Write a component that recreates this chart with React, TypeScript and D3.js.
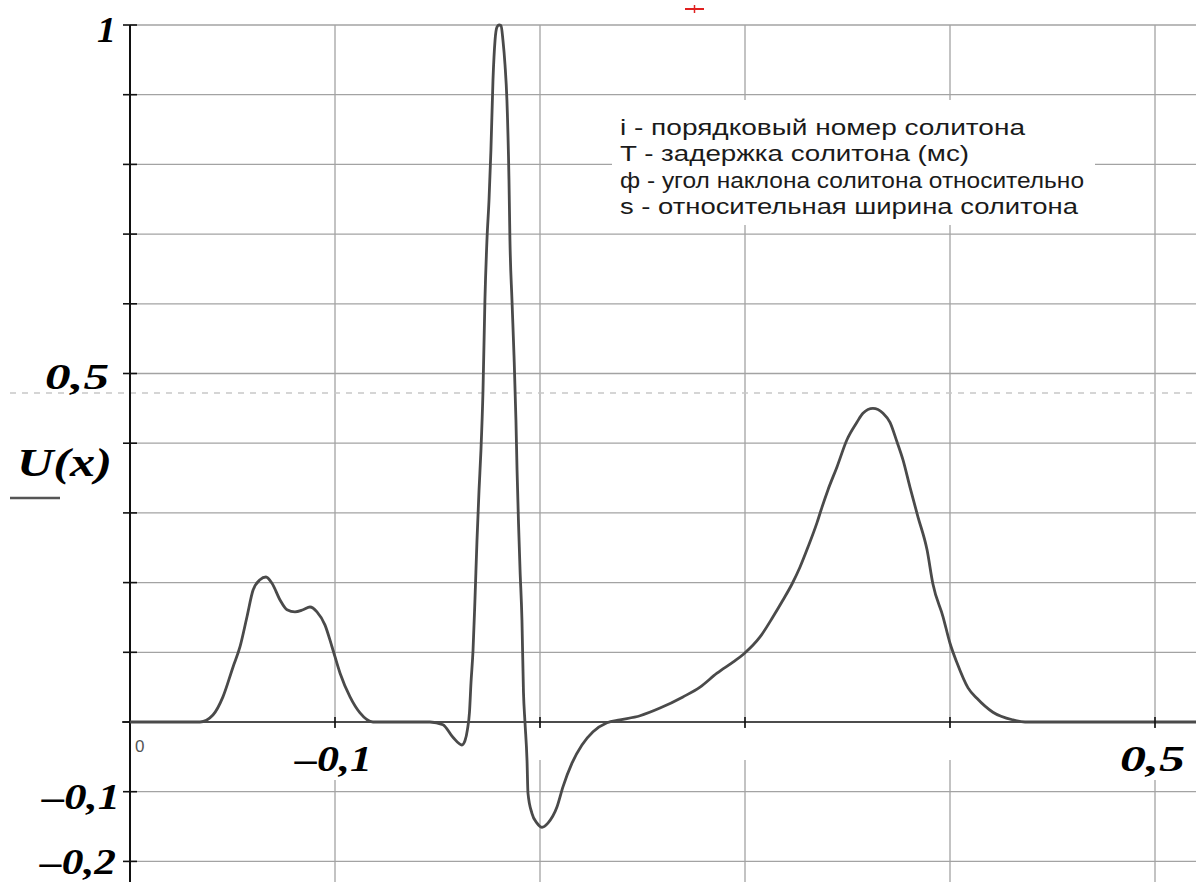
import React from "react";
import * as d3 from "d3";

// ---- data ----
const uX = [
  -0.25, -0.1988, -0.1893, -0.182, -0.1746, -0.1695, -0.1644, -0.16, -0.1549, -0.1505,
  -0.1461, -0.1402, -0.1351, -0.1293, -0.1234, -0.1183, -0.1132, -0.1073, -0.1022, -0.0963,
  -0.089, -0.0817, -0.0722, -0.0305, -0.021, -0.0137, -0.0071, -0.0049, -0.0031, -0.0016,
  -0.0005, 0.001, 0.0024, 0.0039, 0.0054, 0.0068, 0.0083, 0.0097, 0.0112, 0.0127,
  0.0141, 0.0156, 0.0171, 0.0185, 0.02, 0.0215, 0.0229, 0.0244, 0.0258, 0.0273,
  0.028, 0.0295, 0.031, 0.0324, 0.0332, 0.0343, 0.0354, 0.0368, 0.0379, 0.039,
  0.0405, 0.0412, 0.0441, 0.0478, 0.0515, 0.0558, 0.0624, 0.0668, 0.0734, 0.0807,
  0.0888, 0.099, 0.1085, 0.1232, 0.1378, 0.1546, 0.1671, 0.1795, 0.1912, 0.1993,
  0.211, 0.2205, 0.2278, 0.2344, 0.2402, 0.2461, 0.2527, 0.2563, 0.2607, 0.2673,
  0.2746, 0.2819, 0.2863, 0.2936, 0.301, 0.3061, 0.3112, 0.3156, 0.3207, 0.3266,
  0.3332, 0.3375, 0.3449, 0.35, 0.3551, 0.3632, 0.3697, 0.3814, 0.3961, 0.4049,
  0.53,
];
const uY = [
  0, 0, 0.01, 0.036, 0.079, 0.108, 0.151, 0.189, 0.204, 0.208,
  0.199, 0.175, 0.161, 0.158, 0.161, 0.165, 0.158, 0.139, 0.108, 0.07,
  0.036, 0.013, 0, 0, -0.004, -0.022, -0.033, -0.027, -0.011, 0.014,
  0.056, 0.103, 0.175, 0.261, 0.333, 0.39, 0.476, 0.605, 0.692, 0.749,
  0.821, 0.921, 0.978, 0.997, 1.0, 0.999, 0.978, 0.943, 0.892, 0.778,
  0.692, 0.605, 0.525, 0.433, 0.362, 0.284, 0.218, 0.146, 0.043, 0,
  -0.055, -0.102, -0.131, -0.145, -0.151, -0.145, -0.122, -0.093, -0.059, -0.033,
  -0.014, -0.001, 0.003, 0.009, 0.02, 0.036, 0.05, 0.07, 0.086, 0.098,
  0.122, 0.151, 0.175, 0.198, 0.222, 0.251, 0.286, 0.308, 0.333, 0.366,
  0.405, 0.43, 0.443, 0.45, 0.443, 0.43, 0.402, 0.376, 0.337, 0.294,
  0.247, 0.198, 0.151, 0.113, 0.085, 0.049, 0.034, 0.014, 0.003, 0,
  0,
];

const yGridValues = [-0.2, -0.1, 0.1, 0.2, 0.3, 0.4, 0.5, 0.6, 0.7, 0.8, 0.9, 1.0];
const yTickValues = [-0.2, -0.1, 0, 0.1, 0.2, 0.3, 0.4, 0.5, 0.6, 0.7, 0.8, 0.9, 1.0];
const xGridValues = [-0.1, 0.05, 0.2, 0.35, 0.5];
const yLabelValues = [1, 0.5, -0.1, -0.2];
const yLabelTexts = ["1", "0,5", "–0,1", "–0,2"];
const xLabelValues = [-0.1, 0.5];
const xLabelTexts = ["–0,1", "0,5"];
const originLabel = "0";
const refLevel = 0.472;
const seriesName = "U(x)";
const legendLines = [
  "i - порядковый номер солитона",
  "T - задержка солитона (мс)",
  "ф - угол наклона солитона относительно",
  "s - относительная ширина солитона",
];

// ---- layout ----
const W = 1196;
const H = 882;

export default function App() {
  const x = d3.scaleLinear().domain([-0.25, 0.5]).range([130, 1155]);
  const y = d3.scaleLinear().domain([-0.2, 1]).range([861.4, 25]);
  const pts = uX.map((v, i) => [v, uY[i]] as [number, number]);
  const line = d3
    .line<[number, number]>()
    .x((d) => x(d[0]))
    .y((d) => y(d[1]))
    .curve(d3.curveMonotoneX);

  const x0 = x(-0.25);
  const y0 = y(0);
  const gridColor = "#a3a3a3";
  const serif = "'Liberation Serif', 'Times New Roman', serif";

  // label geometry (start x, width, baseline offset) for stretched bold italic labels
  const yLabelGeom: Record<string, [number, number, number]> = {
    "1": [97, 19, 17],
    "0,5": [45, 64, 15],
    "–0,1": [42, 78, 17],
    "–0,2": [40, 76, 13],
  };
  const xLabelGeom: Record<string, [number, number]> = {
    "–0,1": [295, 77],
    "0,5": [1120, 65],
  };
  const legendWidths = [405, 349, 464, 458];

  return (
    <svg
      width={W}
      height={H}
      viewBox={`0 0 ${W} ${H}`}
      style={{ position: "absolute", left: 0, top: 0, display: "block", background: "#fff" }}
    >
      <rect x={0} y={0} width={W} height={H} fill="#fff" />

      {/* horizontal grid */}
      {yGridValues.map((v) => (
        <line key={"hg" + v} x1={x0} x2={W} y1={y(v)} y2={y(v)} stroke={gridColor} strokeWidth={1.3} />
      ))}
      {/* vertical grid */}
      {xGridValues.map((v) => (
        <line key={"vg" + v} x1={x(v)} x2={x(v)} y1={y(1)} y2={H} stroke={gridColor} strokeWidth={1.3} />
      ))}

      {/* blank band below axis */}
      <rect x={x0 + 2} y={y0 + 5} width={W - x0} height={33} fill="#fff" />

      {/* reference dashed level */}
      <line x1={10} x2={W} y1={y(refLevel)} y2={y(refLevel)} stroke="#c8c8c8" strokeWidth={1.3} strokeDasharray="6,6" />

      {/* legend box */}
      <rect x={612} y={100} width={483} height={125} fill="#fff" />
      <g fontFamily="'Liberation Sans', Arial, sans-serif" fontSize={22} fill="#1a1a1a">
        {legendLines.map((t, i) => (
          <text
            key={t}
            x={620}
            y={135 + i * 26.3}
            textLength={legendWidths[i]}
            lengthAdjust="spacingAndGlyphs"
          >
            {t}
          </text>
        ))}
      </g>

      {/* axes */}
      <line x1={x0} x2={x0} y1={y(1)} y2={H} stroke="#111" strokeWidth={2} />
      <line x1={122} x2={W} y1={y0} y2={y0} stroke="#111" strokeWidth={1.6} />
      {yTickValues.map((v) => (
        <line key={"yt" + v} x1={123} x2={137} y1={y(v)} y2={y(v)} stroke="#111" strokeWidth={1.6} />
      ))}

      {/* curve */}
      <path d={line(pts) || ""} fill="none" stroke="#4a4a4a" strokeWidth={2.8} strokeLinejoin="round" />

      {/* labels */}
      <g fontFamily={serif} fontWeight="bold" fontStyle="italic" fontSize={36} fill="#000">
        {yLabelValues.map((v, i) => {
          const g = yLabelGeom[yLabelTexts[i]];
          return (
            <text key={"yl" + v} x={g[0]} y={y(v) + g[2]} textLength={g[1]} lengthAdjust="spacingAndGlyphs">
              {yLabelTexts[i]}
            </text>
          );
        })}
        {xLabelValues.map((v, i) => {
          const g = xLabelGeom[xLabelTexts[i]];
          return (
            <g key={"xl" + v}>
              <rect x={g[0] - 2} y={y0 + 6} width={g[1] + 4} height={52} fill="#fff" />
              <text x={g[0]} y={y0 + 49} textLength={g[1]} lengthAdjust="spacingAndGlyphs">
                {xLabelTexts[i]}
              </text>
            </g>
          );
        })}
        <text x={17} y={476} fontSize={40} textLength={95} lengthAdjust="spacingAndGlyphs">
          {seriesName}
        </text>
      </g>
      {/* x ticks */}
      {xGridValues.map((v) => (
        <line key={"xt" + v} x1={x(v)} x2={x(v)} y1={y0 - 5} y2={y0 + 6} stroke="#111" strokeWidth={1.6} />
      ))}
      {/* series swatch */}
      <line x1={10} x2={60} y1={498} y2={498} stroke="#555" strokeWidth={2.5} />

      {/* origin label */}
      <text x={135} y={752} fontFamily="'Liberation Sans', Arial, sans-serif" fontSize={17} fill="#555">
        {originLabel}
      </text>

      {/* red marker at top */}
      <line x1={685} x2={704} y1={9} y2={9} stroke="#e02020" strokeWidth={2} />
      <line x1={694.5} x2={694.5} y1={5} y2={13} stroke="#e02020" strokeWidth={1.5} />
    </svg>
  );
}
